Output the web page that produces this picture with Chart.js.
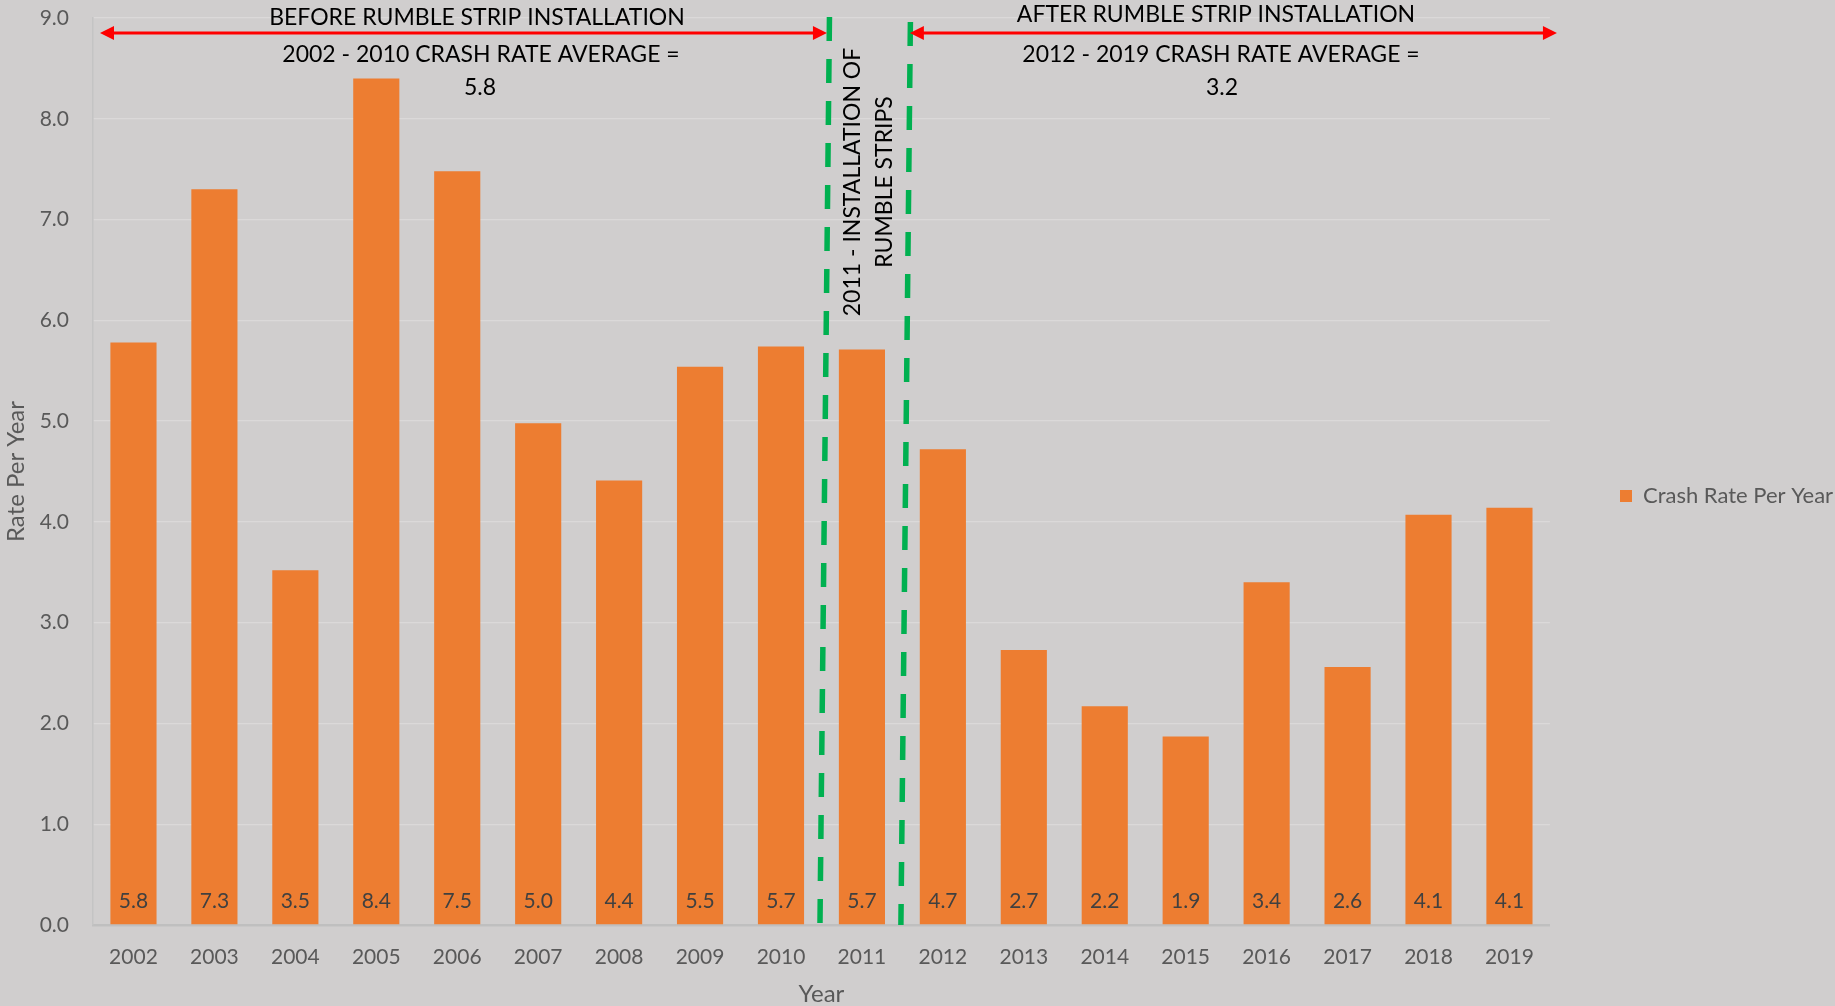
<!DOCTYPE html>
<html>
<head>
<meta charset="utf-8">
<title>Crash Rate Per Year</title>
<script src="https://cdn.jsdelivr.net/npm/chart.js@4.4.1/dist/chart.umd.min.js"></script>
<style>
  html, body { margin: 0; padding: 0; background: #d0cece; }
  #wrap { width: 1835px; height: 1006px; }
</style>
</head>
<body>
<div id="wrap"><canvas id="crashChart" width="1835" height="1006"></canvas></div>
<script>
'use strict';

const years = ['2002', '2003', '2004', '2005', '2006', '2007', '2008', '2009', '2010',
               '2011', '2012', '2013', '2014', '2015', '2016', '2017', '2018', '2019'];
const crashRates = [5.78, 7.30, 3.52, 8.40, 7.48, 4.98, 4.41, 5.54, 5.74,
                    5.71, 4.72, 2.73, 2.17, 1.87, 3.40, 2.56, 4.07, 4.14];
const seriesName = 'Crash Rate Per Year';
const yMin = 0;
const yMax = 9;
const yStep = 1;
const installYear = '2011';

const beforeNote = ['BEFORE RUMBLE STRIP INSTALLATION', '2002 - 2010 CRASH RATE AVERAGE =', '5.8'];
const afterNote = ['AFTER RUMBLE STRIP INSTALLATION', '2012 - 2019 CRASH RATE AVERAGE =', '3.2'];
const installNote = ['2011 - INSTALLATION OF', 'RUMBLE STRIPS'];

Chart.defaults.font.family = 'Lato, Carlito, "Open Sans", sans-serif';

// grey page behind everything
const plotBg = {
    id: 'plotBg',
    beforeDraw(chart) {
        const ctx = chart.ctx;
        ctx.save();
        ctx.fillStyle = '#d0cece';
        ctx.fillRect(0, 0, chart.width, chart.height);
        ctx.restore();
    }
};

// put the legend item where excel had it
const legendSpot = {
    id: 'legendSpot',
    afterLayout(chart) {
        const lg = chart.legend;
        if (!lg) return;
        const pad = lg.options.labels.padding;
        const dx = 1620 - pad - lg.left;
        const dy = 496 - (lg.top + lg.bottom) / 2;
        lg.left += dx; lg.right += dx;
        lg.top += dy; lg.bottom += dy;
    }
};

// value labels sitting at the foot of every bar
const barLabels = {
    id: 'barLabels',
    afterDatasetsDraw(chart) {
        const ctx = chart.ctx;
        const base = chart.scales.y.getPixelForValue(0);
        const meta = chart.getDatasetMeta(0);
        ctx.save();
        ctx.font = '21px Lato';
        ctx.fillStyle = '#404040';
        ctx.textAlign = 'center';
        ctx.textBaseline = 'middle';
        meta.data.forEach((bar, i) => {
            ctx.fillText(crashRates[i].toFixed(1), bar.x, base - 24);
        });
        ctx.restore();
    }
};

function drawArrow(ctx, x1, x2, y){
    const head = 14, half = 7;
    ctx.beginPath();
    ctx.moveTo(x1 + head - 2, y);
    ctx.lineTo(x2 - head + 2, y);
    ctx.stroke();
    ctx.beginPath();
    ctx.moveTo(x1, y);
    ctx.lineTo(x1 + head, y - half);
    ctx.lineTo(x1 + head, y + half);
    ctx.closePath();
    ctx.fill();
    ctx.beginPath();
    ctx.moveTo(x2, y);
    ctx.lineTo(x2 - head, y - half);
    ctx.lineTo(x2 - head, y + half);
    ctx.closePath();
    ctx.fill();
}

// dashed green markers, red arrows and the text boxes
const rumbleNotes = {
    id: 'rumbleNotes',
    afterDraw(chart) {
        const {ctx, chartArea} = chart;
        const xs = chart.scales.x;
        const bottom = chart.scales.y.getPixelForValue(0);
        const k = years.indexOf(installYear);
        const cut1 = (xs.getPixelForValue(k - 1) + xs.getPixelForValue(k)) / 2;
        const cut2 = (xs.getPixelForValue(k) + xs.getPixelForValue(k + 1)) / 2;

        ctx.save();
        ctx.strokeStyle = '#00b050';
        ctx.lineWidth = 5.5;
        ctx.setLineDash([24, 18]);
        [[cut1, 17], [cut2, 22]].forEach(([cx, top]) => {
            ctx.beginPath();
            ctx.moveTo(cx + 8, top);
            ctx.lineTo(cx - 1.5, bottom);
            ctx.stroke();
        });
        ctx.setLineDash([]);

        ctx.strokeStyle = '#ff0000';
        ctx.fillStyle = '#ff0000';
        ctx.lineWidth = 3;
        drawArrow(ctx, chartArea.left + 7, cut1 + 5.5, 33);
        drawArrow(ctx, cut2 + 7.5, chartArea.right + 7, 33);

        ctx.fillStyle = '#000000';
        ctx.font = '23px Lato';
        ctx.textAlign = 'center';
        ctx.textBaseline = 'middle';
        ctx.fillText(beforeNote[0], 477, 18);
        ctx.fillText(beforeNote[1], 481, 55);
        ctx.fillText(beforeNote[2], 480, 88);
        ctx.fillText(afterNote[0], 1216, 15);
        ctx.fillText(afterNote[1], 1221, 55);
        ctx.fillText(afterNote[2], 1222, 88);

        ctx.translate(853, 182);
        ctx.rotate(-Math.PI / 2);
        ctx.fillText(installNote[0], 0, 0);
        ctx.fillText(installNote[1], 0, 32);
        ctx.restore();
    }
};

const chart = new Chart(document.getElementById('crashChart'), {
    type: 'bar',
    data: {
        labels: years,
        datasets: [{
            label: seriesName,
            data: crashRates,
            backgroundColor: '#ed7d31',
            borderWidth: 0,
            categoryPercentage: 1,
            barPercentage: 0.57
        }]
    },
    options: {
        responsive: false,
        animation: false,
        devicePixelRatio: 1,
        layout: { padding: { top: 18, left: 0, right: 52, bottom: 0 } },
        plugins: {
            legend: {
                position: 'right',
                labels: { boxWidth: 12, boxHeight: 12, padding: 10, color: '#595959', font: { size: 22 } }
            },
            tooltip: { enabled: false }
        },
        scales: {
            x: {
                grid: { display: false },
                border: { display: true, color: '#bfbfbf', width: 2.5 },
                ticks: { color: '#595959', font: { size: 21 }, padding: 12, maxRotation: 0, autoSkip: false },
                title: { display: true, text: 'Year', color: '#595959', font: { size: 24, lineHeight: 1 }, padding: 0 },
                afterFit(scale) { scale.height = 81; }
            },
            y: {
                min: yMin,
                max: yMax,
                ticks: { stepSize: yStep, callback: v => v.toFixed(1), color: '#595959', font: { size: 21 }, padding: 0 },
                grid: { color: '#dbd9d9', lineWidth: 1.3, drawTicks: true, tickLength: 24, tickColor: 'rgba(0,0,0,0)' },
                border: { display: true, color: '#c4c4c4', width: 1.5 },
                title: { display: true, text: 'Rate Per Year', color: '#595959', font: { size: 24 }, padding: { top: 2, bottom: 0 } },
                afterFit(scale) { scale.width = 93; }
            }
        }
    },
    plugins: [plotBg, legendSpot, barLabels, rumbleNotes]
});
</script>
</body>
</html>
